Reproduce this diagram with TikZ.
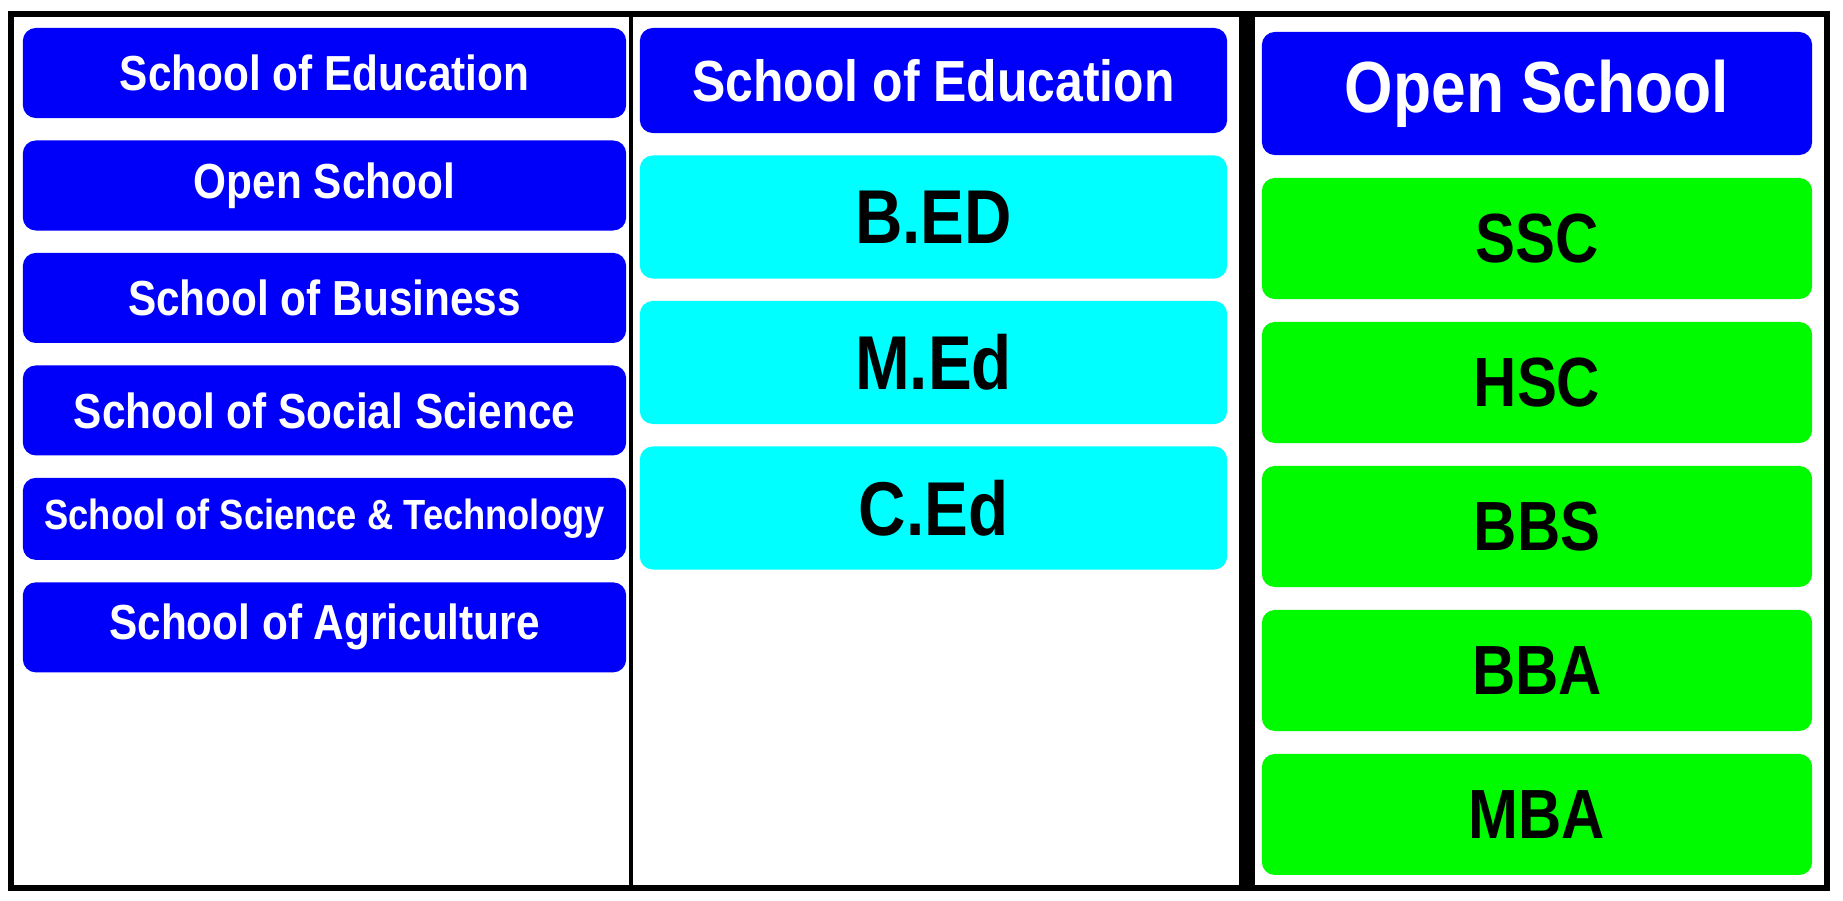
\documentclass[tikz,border=0pt]{standalone}
\usepackage{fontspec}
\setmainfont{Liberation Sans}[FakeStretch=0.86]
\usepackage{tikz}
\usetikzlibrary{positioning}

\definecolor{boxblue}{RGB}{0,0,250}
\definecolor{boxcyan}{RGB}{0,255,255}
\definecolor{boxgreen}{RGB}{0,250,0}

\begin{document}
\begin{tikzpicture}[x=0.01cm,y=-0.01cm,
  every node/.style={rounded corners=0.13cm,inner sep=0pt},
  school/.style={fill=boxblue,text=white,minimum width=6.03cm,minimum height=0.9cm,font=\bfseries\fontsize{14}{16}\selectfont},
  head/.style={fill=boxblue,text=white,font=\bfseries\fontsize{#1}{#1}\selectfont},
  course/.style={fill=boxcyan,minimum width=5.87cm,minimum height=1.23cm,font=\bfseries\fontsize{21.7}{23}\selectfont},
  prog/.style={fill=boxgreen,minimum width=5.5cm,minimum height=1.21cm,font=\bfseries\fontsize{19.8}{21}\selectfont}]
  \useasboundingbox[fill=white] (0,0) rectangle (1843,900);

  % left column
  \node (s1) at (324.5,73) [school]{School of Education};
  \node[below=0.21cm of s1,school] (s2) {Open School};
  \node[below=0.21cm of s2,school] (s3) {School of Business};
  \node[below=0.21cm of s3,school] (s4) {School of Social Science};
  \node[below=0.21cm of s4,school,minimum height=0.82cm,font=\bfseries\fontsize{12}{14}\selectfont] (s5) {School of Science \& Technology};
  \node[below=0.21cm of s5,school] (s6) {School of Agriculture};

  % middle column
  \node (e0) at (933.5,80.5) [head=16.5,minimum width=5.87cm,minimum height=1.05cm]{School of Education};
  \node[below=0.21cm of e0,course] (e1) {B.ED};
  \node[below=0.21cm of e1,course] (e2) {M.Ed};
  \node[below=0.21cm of e2,course] (e3) {C.Ed};

  % right column
  \node (o0) at (1537,93.5) [head=20.6,minimum width=5.5cm,minimum height=1.23cm]{Open School};
  \node[below=0.215cm of o0,prog] (o1) {SSC};
  \node[below=0.215cm of o1,prog] (o2) {HSC};
  \node[below=0.215cm of o2,prog] (o3) {BBS};
  \node[below=0.215cm of o3,prog] (o4) {BBA};
  \node[below=0.215cm of o4,prog] (o5) {MBA};

  \draw[line width=1.2pt] (631,14) -- (631,888);
  \draw[line width=4.3pt] (1247,14) -- (1247,888);
  \draw[line width=1.9pt] (11,14) rectangle (1827,888);
\end{tikzpicture}
\end{document}
